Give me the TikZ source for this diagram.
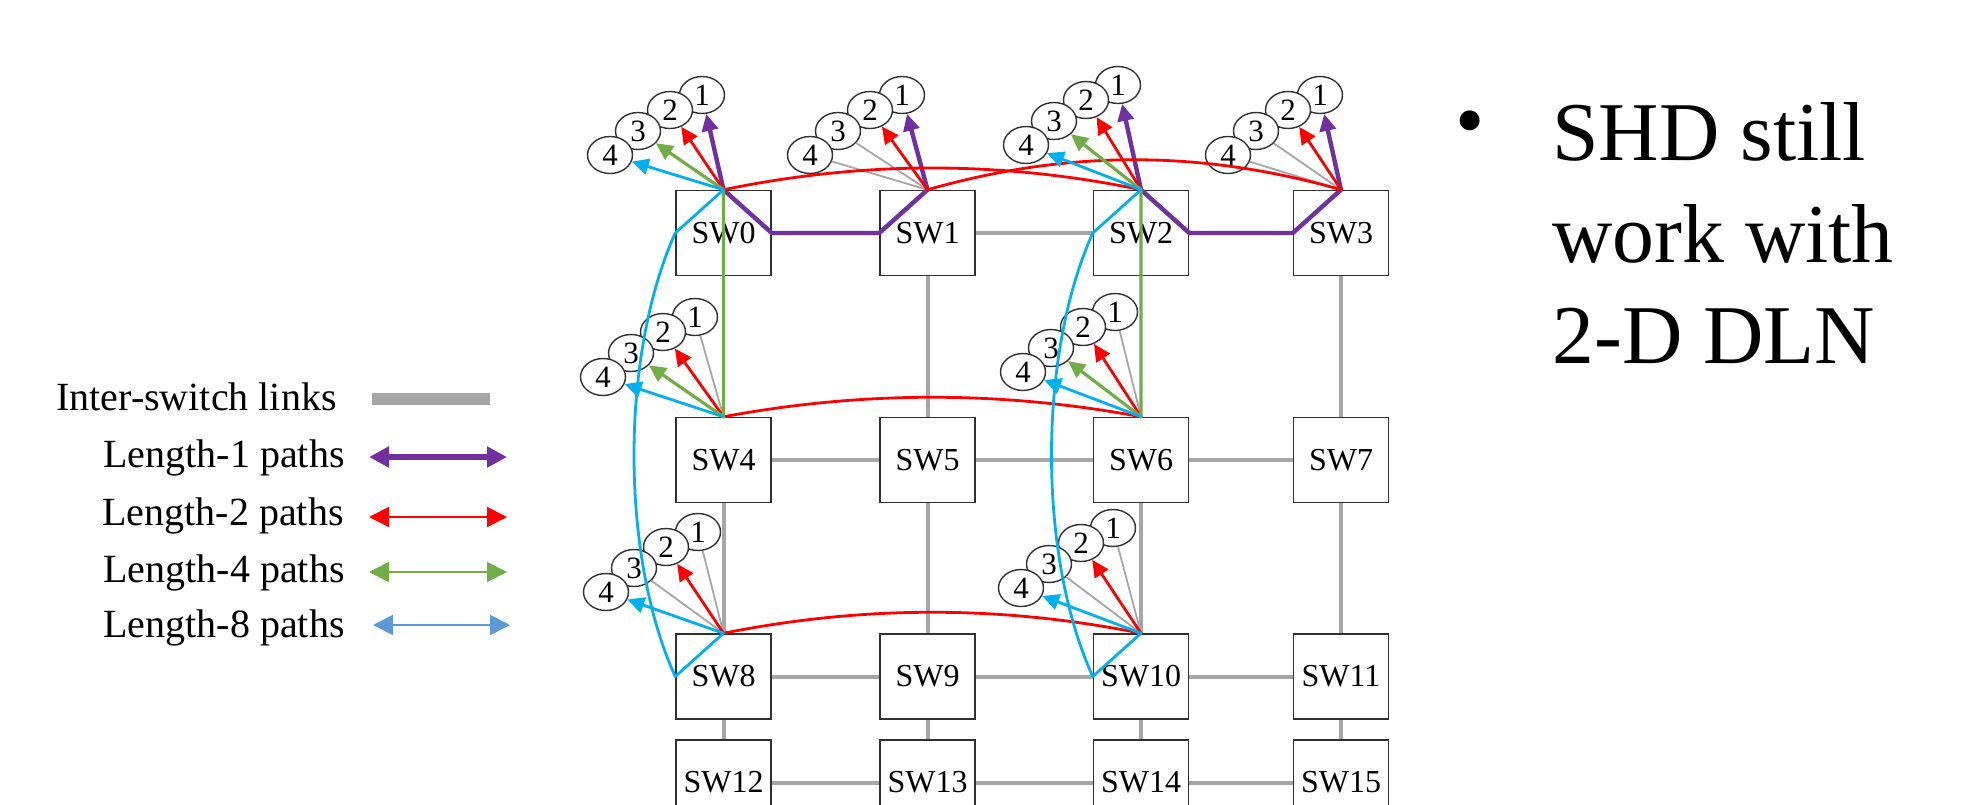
\documentclass[tikz,border=0pt]{standalone}
\usepackage{fontspec}
\setmainfont{Liberation Serif}
\usetikzlibrary{arrows.meta,shapes.geometric}

\definecolor{linkgray}{HTML}{A6A6A6}
\definecolor{lenone}{HTML}{7030A0}
\definecolor{lentwo}{HTML}{FF0000}
\definecolor{lenfour}{HTML}{70AD47}
\definecolor{leneight}{HTML}{00B0F0}
\definecolor{legendblue}{HTML}{5B9BD5}
\definecolor{boxline}{HTML}{303030}

\tikzset{
  switch/.style={draw=boxline, line width=0.75pt, fill=white, minimum width=47.5pt,
    minimum height=42.5pt, inner sep=0pt, font=\fontsize{16}{19}\selectfont},
  port/.style={ellipse, draw=boxline, line width=0.7pt, fill=white, minimum width=22.5pt,
    minimum height=18.5pt, inner sep=0pt, font=\fontsize{15.5}{18}\selectfont},
  link/.style={linkgray, line width=2pt},
  stub/.style={linkgray, line width=0.9pt},
  pathone/.style={lenone, line width=2.2pt, line join=round},
  pathtwo/.style={lentwo, line width=1.4pt, line join=round},
  pathfour/.style={lenfour, line width=1.6pt, line join=round},
  patheight/.style={leneight, line width=1.4pt, line join=round},
  legendtext/.style={anchor=base east, inner sep=0pt, font=\fontsize{20}{24}\selectfont},
  bigtext/.style={anchor=base west, inner sep=0pt, font=\fontsize{41.8}{50}\selectfont},
}

% four numbered ports stacked up-left of a switch: #1 id, #2/#3 centre of port 1
\newcommand\drawports[3]{%
  \node[port] (p#1-1) at (#2,#3) {1};
  \node[port] (p#1-2) at (#2-32,#3+15) {2};
  \node[port] (p#1-3) at (#2-64,#3+36) {3};
  \node[port] (p#1-4) at (#2-92,#3+60) {4};
}

\begin{document}
\begin{tikzpicture}[x=0.5pt, y=-0.5pt, >={Triangle[length=8.5pt,width=8pt]}]
\useasboundingbox (0,0) rectangle (1966,804);

% 4x4 switch grid
\foreach \r/\y in {0/233,1/460,2/676.5,3/782.5}
  \foreach \c/\x in {0/723.5,1/927.5,2/1141,3/1341} {
    \pgfmathtruncatemacro\k{4*\r+\c}
    \node[switch] (SW\k) at (\x,\y) {SW\k};
  }

% inter-switch links
\foreach \a/\b in {1/2,4/5,5/6,6/7,8/9,9/10,10/11,12/13,13/14,14/15,
                   1/5,5/9,9/13,3/7,7/11,11/15,4/8,8/12,6/10,10/14}
  \draw[link] (SW\a) -- (SW\b);

% port ellipses
\drawports{0}{702}{95}
\drawports{1}{902}{95}
\drawports{2}{1118}{85}
\drawports{3}{1320}{95}
\drawports{4}{695}{317}
\drawports{6}{1115}{312}
\drawports{8}{698}{532}
\drawports{10}{1113}{528}

% unused port stubs
\draw[stub] (SW1.north) -- (p1-3);
\draw[stub] (SW1.north) -- (p1-4);
\draw[stub] (SW3.north) -- (p3-3);
\draw[stub] (SW3.north) -- (p3-4);
\draw[stub] (SW4.north) -- (p4-1);
\draw[stub] (SW6.north) -- (p6-1);
\draw[stub] (SW8.north) -- (p8-1);
\draw[stub] (SW8.north) -- (p8-3);
\draw[stub] (SW10.north) -- (p10-1);
\draw[stub] (SW10.north) -- (p10-3);

% length-1 paths
\draw[pathone,<->] (p0-1) -- (SW0.north) -- (SW0.east) -- (SW1.west) -- (SW1.north) -- (p1-1);
\draw[pathone,<->] (p2-1) -- (SW2.north) -- (SW2.east) -- (SW3.west) -- (SW3.north) -- (p3-1);

% length-2 paths
\draw[pathtwo,<->] (p0-2) -- (SW0.north) .. controls +(140,-29) and +(-140,-29) .. (SW2.north) -- (p2-2);
\draw[pathtwo,<->] (p1-2) -- (SW1.north) .. controls +(140,-40) and +(-140,-40) .. (SW3.north) -- (p3-2);
\draw[pathtwo,<->] (p4-2) -- (SW4.north) .. controls +(140,-26) and +(-140,-26) .. (SW6.north) -- (p6-2);
\draw[pathtwo,<->] (p8-2) -- (SW8.north) .. controls +(140,-28) and +(-140,-28) .. (SW10.north) -- (p10-2);

% length-4 paths
\draw[pathfour,<->] (p0-3) -- (SW0.north) -- (SW4.north) -- (p4-3);
\draw[pathfour,<->] (p2-3) -- (SW2.north) -- (SW6.north) -- (p6-3);

% length-8 paths
\draw[patheight,<->] (p0-4) -- (SW0.north) -- (SW0.west) .. controls +(-55,122) and +(-55,-121) .. (SW8.west) -- (SW8.north) -- (p8-4);
\draw[patheight,<->] (p2-4) -- (SW2.north) -- (SW2.west) .. controls +(-55,122) and +(-55,-121) .. (SW10.west) -- (SW10.north) -- (p10-4);
\draw[patheight,->] (SW4.north) -- (p4-4);
\draw[patheight,->] (SW6.north) -- (p6-4);

% legend
\node[legendtext] (lg0) at (337,410) {Inter-switch links};
\node[legendtext] (lg1) at (345,467) {Length-1 paths};
\node[legendtext] (lg2) at (344,525) {Length-2 paths};
\node[legendtext] (lg4) at (345,582) {Length-4 paths};
\node[legendtext] (lg8) at (345,637) {Length-8 paths};
\coordinate (k0a) at (372,399); \coordinate (k0b) at (490,399);
\coordinate (k1a) at (369,457); \coordinate (k1b) at (507,457);
\coordinate (k2a) at (369,517); \coordinate (k2b) at (507,517);
\coordinate (k4a) at (369,572); \coordinate (k4b) at (507,572);
\coordinate (k8a) at (373,625); \coordinate (k8b) at (510,625);
\draw[linkgray, line width=6pt] (k0a) -- (k0b);
\begin{scope}[>={Triangle[length=10pt,width=10pt]}]
  \draw[lenone, line width=3pt, <->] (k1a) -- (k1b);
  \draw[lentwo, line width=1pt, <->] (k2a) -- (k2b);
  \draw[lenfour, line width=1pt, <->] (k4a) -- (k4b);
  \draw[legendblue, line width=1pt, <->] (k8a) -- (k8b);
\end{scope}

% bullet text
\node[inner sep=0pt, font=\fontsize{41.8}{50}\selectfont] (bul) at (1470,130) {•};
\node[bigtext] (t1) at (1552,160) {SHD still};
\node[bigtext] (t2) at (1552,262) {work with};
\node[bigtext] (t3) at (1552,363) {2-D DLN};
\end{tikzpicture}
\end{document}
